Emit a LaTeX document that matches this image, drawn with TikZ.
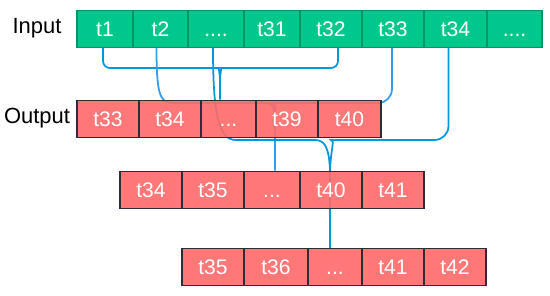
\documentclass[tikz,border=0pt]{standalone}
\usepackage{fontspec}
\setmainfont{Liberation Sans}
\usepackage{xcolor}
\usepackage{tikz}
\usetikzlibrary{calc}
\definecolor{ingreen}{RGB}{0, 200, 140}
\definecolor{outred}{RGB}{255, 105, 105}
\definecolor{cellline}{RGB}{45, 45, 55}
\definecolor{wiredark}{RGB}{0, 152, 219}
\definecolor{wirelight}{RGB}{55, 155, 238}
\pgfdeclarelayer{bg}
\pgfsetlayers{bg,main}
\newcommand{\indots}{....}
\newcommand{\outdots}{...}

\begin{document}
\begin{tikzpicture}[x=0.02cm, y=-0.02cm, font=\fontsize{12}{14}\selectfont,
  cell/.style={line width=0.6pt, inner sep=0pt, text=white, text opacity=1,
    text height=8.6pt, text depth=0pt, minimum height=0.74cm},
  incell/.style={cell, fill=ingreen, draw=ingreen!75!black},
  outcell/.style={cell, fill=outred, fill opacity=0.9, draw=cellline, draw opacity=1},
  wire/.style={line width=1pt}]
  \useasboundingbox (0,0) rectangle (550,295);

  % row labels
  \node[font=\fontsize{12.5}{14}\selectfont] (lblin) at (37,28) {Input};
  \node[font=\fontsize{12.5}{14}\selectfont] (lblout) at (37,118) {Output};

  % input tokens
  \foreach \l/\r/\t [count=\i] in {77/133/t1, 133/188/t2, 188/244/\indots, 244/300/t31,
      300/362/t32, 362/424/t33, 424/487/t34, 487/542/\indots}
    \node[incell, minimum width={(\r-\l)*0.02cm}] (in\i) at ({(\l+\r)/2},28.7) {\t};

  % output windows
  \foreach \l/\r/\t [count=\i] in {77/139/t33, 139/201/t34, 201/256/\outdots, 256/318/t39, 318/381/t40}
    \node[outcell, minimum width={(\r-\l)*0.02cm}] (outA\i) at ({(\l+\r)/2},118.7) {\t};
  \foreach \l/\r/\t [count=\i] in {120/182/t34, 182/244/t35, 244/300/\outdots, 300/362/t40, 362/424/t41}
    \node[outcell, minimum width={(\r-\l)*0.02cm}] (outB\i) at ({(\l+\r)/2},189.7) {\t};
  \foreach \l/\r/\t [count=\i] in {182/244/t35, 244/308/t36, 308/362/\outdots, 362/424/t41, 424/486/t42}
    \node[outcell, minimum width={(\r-\l)*0.02cm}] (outC\i) at ({(\l+\r)/2},267) {\t};

  % junctions
  \coordinate (jA) at (220,68);
  \coordinate (jB) at (275,103);
  \coordinate (jC) at (330,140);

  \begin{pgfonlayer}{bg}
    % t1 + t32
    \draw[wire, wiredark] ($(in1.south)+(-2,0)$) [rounded corners=4] |- ($(jA)+(-8,0)$)
      [sharp corners] .. controls ($(jA)+(-2,0)$) and ($(jA)+(0,3)$) .. ($(jA)+(0,14)$)
      -- (jA |- outA3.north);
    \draw[wire, wiredark] ($(in5.south)+(7,0)$) [rounded corners=4] |- ($(jA)+(8,0)$)
      [sharp corners] .. controls ($(jA)+(2,0)$) and ($(jA)+(0,3)$) .. ($(jA)+(0,14)$);
    % t2 + t33
    \draw[wire, wirelight] ($(in2.south)+(-4,0)$) .. controls ($(in2.south)+(-4,45)$)
      and ($(in2.south |- jB)+(-1,0)$) .. ($(in2.south |- jB)+(12,0)$)
      -- ($(jB)+(-9,0)$) .. controls ($(jB)+(-2,0)$) and ($(jB)+(0,4)$) .. ($(jB)+(0,20)$)
      -- (jB |- outB3.north);
    \draw[wire, wirelight] ($(in6.south)+(-1,0)$) [rounded corners=8] |- ($(jB)+(9,0)$)
      [sharp corners] .. controls ($(jB)+(2,0)$) and ($(jB)+(0,4)$) .. ($(jB)+(0,20)$);
    % .... + t34
    \draw[wire, wiredark] ($(in3.south)+(-3,0)$) .. controls ($(in3.south)+(-3,65)$)
      and ($(in3.south |- jC)+(2,0)$) .. ($(in3.south |- jC)+(20,0)$)
      -- ($(jC)+(-15,0)$) .. controls ($(jC)+(-5,0)$) and ($(jC)+(-1,8)$) .. ($(jC)+(0,30)$)
      -- (jC |- outC3.north);
    \draw[wire, wiredark] ($(in7.south)+(-7,0)$) [rounded corners=8] |- ($(jC)+(15,0)$)
      [sharp corners] .. controls ($(jC)+(5,0)$) and ($(jC)+(1,8)$) .. ($(jC)+(0,30)$);
  \end{pgfonlayer}
\end{tikzpicture}
\end{document}
